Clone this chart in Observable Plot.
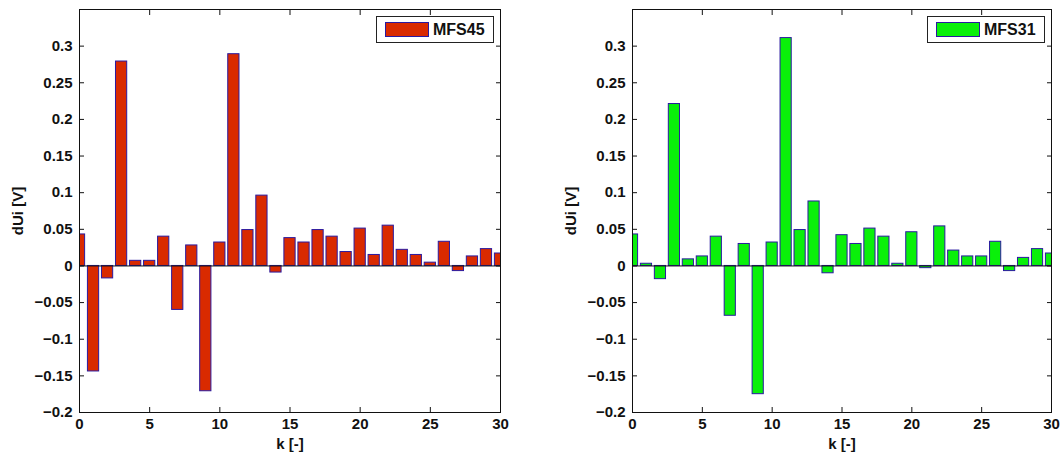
<!DOCTYPE html>
<html>
<head>
<meta charset="utf-8">
<script src="https://cdn.jsdelivr.net/npm/d3@7"></script>
<script src="https://cdn.jsdelivr.net/npm/@observablehq/plot@0.6"></script>
<style>
  html, body { margin: 0; padding: 0; background: #fff; }
  #wrap { display: flex; width: 1064px; height: 457px; }
  .panel { position: relative; width: 532px; height: 457px; }
  .legend { position: absolute; box-sizing: border-box; height: 27px; border: 1px solid #222; background: #fff;
            font: bold 16px "Liberation Sans", Arial, sans-serif; display: flex; align-items: center; color: #111; }
  .legend .sw { width: 44px; height: 15px; box-sizing: border-box; border: 1px solid #2a1aa0; margin: 0 4px 0 8px; }
</style>
</head>
<body>
<div id="wrap"></div>
<script>
const k = d3.range(0, 31);
const mfs45 = [0.043, -0.144, -0.017, 0.279, 0.007, 0.007, 0.040, -0.060, 0.028, -0.171,
               0.032, 0.289, 0.049, 0.096, -0.009, 0.038, 0.032, 0.049, 0.040, 0.019,
               0.051, 0.015, 0.055, 0.022, 0.015, 0.0045, 0.033, -0.007, 0.013, 0.023, 0.017];
const mfs31 = [0.043, 0.003, -0.018, 0.221, 0.009, 0.013, 0.040, -0.068, 0.030, -0.175,
               0.032, 0.311, 0.049, 0.088, -0.010, 0.042, 0.030, 0.051, 0.040, 0.003,
               0.046, -0.003, 0.054, 0.021, 0.013, 0.013, 0.033, -0.007, 0.011, 0.023, 0.017];
const xTicks = [0, 5, 10, 15, 20, 25, 30];
const yTicks = [-0.2, -0.15, -0.1, -0.05, 0, 0.05, 0.1, 0.15, 0.2, 0.25, 0.3];
const series = [
  {name: "MFS45", values: mfs45, fill: "#d92a00", ml: 79, mr: 32, legendLeft: 376, legendW: 118},
  {name: "MFS31", values: mfs31, fill: "#0af00a", ml: 100, mr: 13, legendLeft: 395, legendW: 118}
];
const font = '"Liberation Sans", Arial, sans-serif';
const yFmt = d => d === 0 ? "0" : String(d).replace("-", "\u2212");

const wrap = document.getElementById("wrap");
for (const s of series) {
  const data = k.map((kk, i) => ({k: kk, v: s.values[i]}));
  const tickOpts = {tickSize: -5, fill: "none", label: null, stroke: "#111"};
  const chart = Plot.plot({
    width: 532, height: 457,
    marginLeft: s.ml, marginRight: s.mr, marginTop: 9, marginBottom: 45,
    style: {fontFamily: font, fontSize: "16px", fontWeight: "bold", color: "#111", background: "#fff"},
    x: {domain: [0, 30]},
    y: {domain: [-0.2, 0.35]},
    marks: [
      Plot.rectY(data, {x1: d => d.k - 0.4, x2: d => d.k + 0.4, y: "v", fill: s.fill, stroke: "#2a1aa0", strokeWidth: 1, clip: true}),
      Plot.ruleY([0], {stroke: "#111", strokeWidth: 1}),
      Plot.axisX(xTicks, {anchor: "bottom", tickSize: 0, tickPadding: 6, tickFormat: d => String(d), label: "k [-]", labelArrow: "none", labelAnchor: "center", labelOffset: 36, fontSize: 15, fontWeight: "bold"}),
      Plot.axisX(xTicks, {anchor: "bottom", ...tickOpts}),
      Plot.axisX(xTicks, {anchor: "top", ...tickOpts}),
      Plot.axisY(yTicks, {anchor: "left", tickSize: 0, tickPadding: 7, tickFormat: yFmt, label: "dUi [V]", labelArrow: "none", labelAnchor: "center", labelOffset: 67, fontSize: 15, fontWeight: "bold"}),
      Plot.axisY(yTicks, {anchor: "left", ...tickOpts}),
      Plot.axisY(yTicks, {anchor: "right", ...tickOpts}),
      Plot.frame({stroke: "#111", strokeWidth: 1})
    ]
  });
  const panel = document.createElement("div");
  panel.className = "panel";
  panel.appendChild(chart);
  const leg = document.createElement("div");
  leg.className = "legend";
  leg.style.left = s.legendLeft + "px";
  leg.style.top = "16px";
  leg.style.width = s.legendW + "px";
  const sw = document.createElement("div");
  sw.className = "sw";
  sw.style.background = s.fill;
  leg.appendChild(sw);
  leg.appendChild(document.createTextNode(s.name));
  panel.appendChild(leg);
  wrap.appendChild(panel);
}
</script>
</body>
</html>
